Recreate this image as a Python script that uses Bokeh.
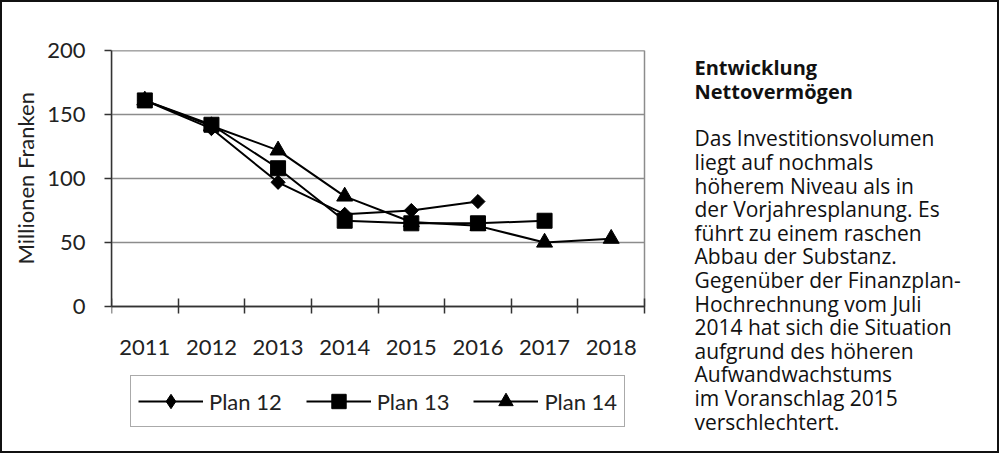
import numpy as np
from bokeh.plotting import figure
from bokeh.models import FixedTicker, Legend, LegendItem, Label, Range1d, Title
from bokeh.core.properties import value
from bokeh.embed import file_html
from bokeh.resources import INLINE

# ---- data ----
years = ["2011", "2012", "2013", "2014", "2015", "2016", "2017", "2018"]
plan12 = [161, 139, 97, 72, 75, 82, None, None]
plan13 = [161, 142, 108, 67, 65, 65, 67, None]
plan14 = [161, 141, 122, 86, 66, 63, 50, 53]
series_names = ["Plan 12", "Plan 13", "Plan 14"]
y_ticks = [0, 50, 100, 150, 200]
y_label = "Millionen Franken"
title_lines = ["Entwicklung", "Nettovermögen"]
body_lines = [
    "Das Investitionsvolumen",
    "liegt auf nochmals",
    "höherem Niveau als in",
    "der Vorjahresplanung. Es",
    "führt zu einem raschen",
    "Abbau der Substanz.",
    "Gegenüber der Finanzplan-",
    "Hochrechnung vom Juli",
    "2014 hat sich die Situation",
    "aufgrund des höheren",
    "Aufwandwachstums",
    "im Voranschlag 2015",
    "verschlechtert.",
]

CHART_FONT = "Lato"
TEXT_FONT = "Open Sans"

# ---- geometry (pixels) ----
FRAME_W, FRAME_H = 886, 390      # whole drawing area right of the y axis
CHART_W, CHART_H = 533, 256      # the plotting rectangle inside it
LEFT, TOP = 109, 48
YLABEL_LEN = 172                 # approx. rendered length of the y axis title

n = len(years)
ymax = y_ticks[-1]
centers = [i + 0.5 for i in range(n)]
bounds = list(range(n + 1))
ppx = CHART_W / n
ppy = CHART_H / ymax

p = figure(frame_width=FRAME_W, frame_height=FRAME_H,
           x_range=Range1d(0, FRAME_W / ppx), y_range=Range1d(ymax - FRAME_H / ppy, ymax),
           output_backend="svg", toolbar_location=None,
           min_border_left=LEFT, min_border_right=0,
           min_border_top=TOP, min_border_bottom=11)
p.styles = {"border": "2px solid #111"}
p.background_fill_color = "white"
p.border_fill_color = "white"
p.outline_line_color = None
p.xgrid.visible = False
p.ygrid.visible = False

# plot rectangle and horizontal grid lines
p.quad(left=0, right=n, bottom=0, top=ymax, fill_color=None,
       line_color="#8c8c8c", line_width=1.5)
p.segment(x0=[0] * len(y_ticks), x1=[n] * len(y_ticks), y0=y_ticks, y1=y_ticks,
          line_color="#8c8c8c", line_width=1.5)

# x axis at y = 0: ticks at category boundaries
p.xaxis.fixed_location = 0
p.xaxis.bounds = (0, n)
p.xaxis.ticker = FixedTicker(ticks=[], minor_ticks=bounds)
p.xaxis.major_tick_in = 0
p.xaxis.major_tick_out = 0
p.xaxis.minor_tick_in = 8
p.xaxis.minor_tick_out = 7
p.xaxis.minor_tick_line_color = "#333"
p.xaxis.minor_tick_line_width = 1.5
p.xaxis.axis_line_color = "#333"
p.xaxis.axis_line_width = 1.5
p.xaxis.major_label_standoff = 0

# year labels below the axis
p.text(x=centers, y=[0] * n, text=years, y_offset=41,
       text_align="center", text_baseline="alphabetic",
       text_font=value(CHART_FONT), text_font_size="22px", text_color="#222")

p.yaxis.bounds = (0, ymax)
p.yaxis.ticker = FixedTicker(ticks=y_ticks, minor_ticks=[])
p.yaxis.major_tick_in = 0
p.yaxis.major_tick_out = 7
p.yaxis.major_tick_line_color = "#333"
p.yaxis.major_tick_line_width = 1.5
p.yaxis.axis_line_color = "#333"
p.yaxis.axis_line_width = 1.5
p.yaxis.major_label_standoff = 19
p.yaxis.major_label_text_font = CHART_FONT
p.yaxis.major_label_text_font_size = "22px"
p.yaxis.major_label_text_color = "#222"

# y axis title, centred on the plotting rectangle (not on the whole frame)
p.add_layout(Title(text=y_label, align="left",
                   offset=FRAME_H - CHART_H / 2 - YLABEL_LEN / 2,
                   text_font=CHART_FONT, text_font_size="22px",
                   text_font_style="normal", text_color="#222", standoff=12), "left")

markers = [("square", 10, np.pi / 4), ("square", 15, 0.0), ("triangle", 16, 0.0)]
items = []
for name, vals, (mk, sz, ang) in zip(series_names, [plan12, plan13, plan14], markers):
    xs = [c for c, v in zip(centers, vals) if v is not None]
    ys = [v for v in vals if v is not None]
    rl = p.line(xs, ys, line_color="black", line_width=2)
    rends = [rl]
    if ang:
        # diamond used for the legend symbol (hidden under the rotated square)
        rends.append(p.scatter(xs, ys, marker="diamond", size=13,
                               fill_color="black", line_color="black"))
    rm = p.scatter(xs, ys, marker=mk, size=sz, angle=ang,
                   fill_color="black", line_color="black")
    if not ang:
        rends.append(rm)
    items.append(LegendItem(label=name, renderers=rends))

# legend (screen position relative to the frame's lower-left corner)
legend = Legend(items=items, location=(19, 13), orientation="horizontal",
                spacing=24, padding=7, margin=0,
                glyph_width=65, glyph_height=36, label_standoff=6,
                label_text_font=CHART_FONT, label_text_font_size="22px",
                label_text_color="#222",
                border_line_color="#555", border_line_width=1.5,
                background_fill_color="white", background_fill_alpha=1)
p.add_layout(legend)

# side text (screen units relative to the frame's lower-left corner)
line_pitch = 23.6
y0 = TOP + FRAME_H + 2 - 67
tx = 583
for k, s in enumerate(title_lines):
    p.add_layout(Label(x=tx, y=y0 - k * line_pitch, x_units="screen", y_units="screen",
                       text=s, text_font=TEXT_FONT, text_font_size="20px",
                       text_font_style="bold", text_color="#111",
                       text_baseline="alphabetic"))
for k, s in enumerate(body_lines):
    kk = k + len(title_lines) + 1
    p.add_layout(Label(x=tx, y=y0 - kk * line_pitch, x_units="screen", y_units="screen",
                       text=s, text_font=TEXT_FONT, text_font_size="21px",
                       text_color="#111", text_baseline="alphabetic"))

open("out.html", "w").write(file_html(p, INLINE))
